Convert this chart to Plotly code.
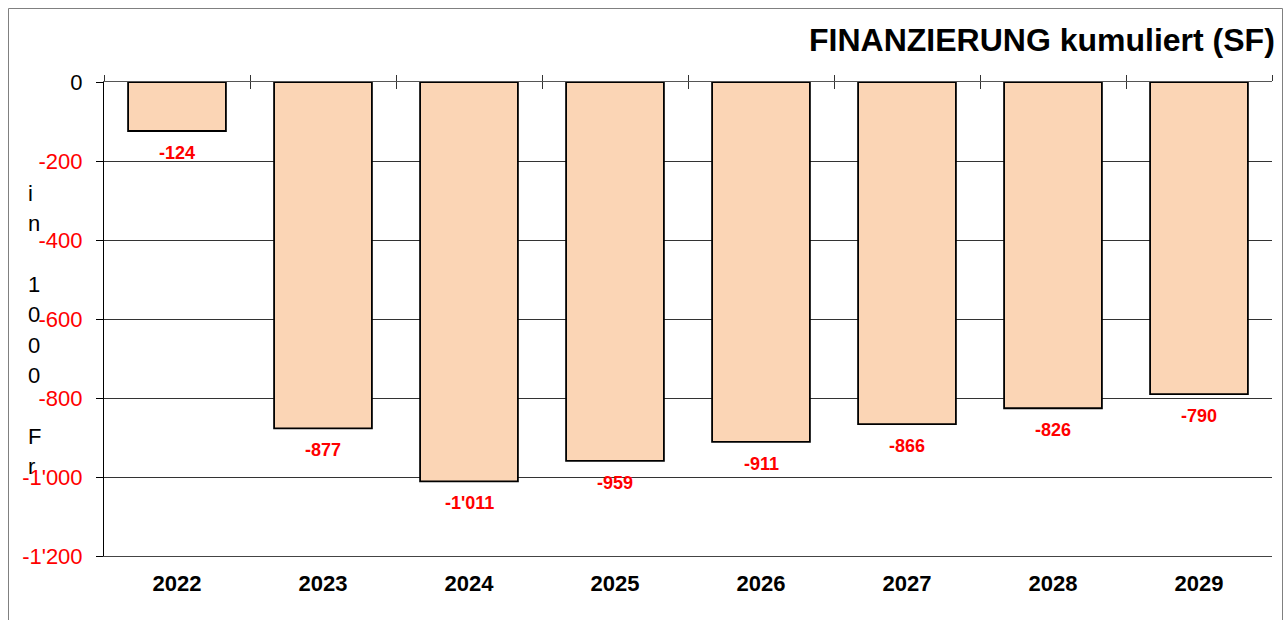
import plotly.graph_objects as go

# ---- data ----
years = ["2022", "2023", "2024", "2025", "2026", "2027", "2028", "2029"]
values = [-124, -877, -1011, -959, -911, -866, -826, -790]
ytick_vals = [0, -200, -400, -600, -800, -1000, -1200]
ytick_labels = ["0", "-200", "-400", "-600", "-800", "-1'000", "-1'200"]
title_text = "FINANZIERUNG kumuliert (SF)"
yaxis_title = "in 1000 Fr"

FONT = "Liberation Sans, Arial, Helvetica, sans-serif"
W, H = 1287, 620
ML, MR, MT, MB = 104, 15, 82, 64
PW, PH = W - ML - MR, H - MT - MB


def px_x(px):
    return (px - ML) / PW


def px_y(py):
    return (H - MB - py) / PH


def fmt(v):
    s = f"{abs(v):,}".replace(",", "'")
    return ("-" if v < 0 else "") + s


n = len(years)
xs = list(range(n))

fig = go.Figure()
fig.add_trace(go.Bar(
    x=xs, y=values, width=0.67,
    marker=dict(color="#FBD5B5", line=dict(color="black", width=1.8)),
    hoverinfo="skip", showlegend=False,
))
# invisible traces to attach boundary tick axes
fig.add_trace(go.Scatter(x=[], y=[], xaxis="x2", showlegend=False, hoverinfo="skip"))
fig.add_trace(go.Scatter(x=[], y=[], xaxis="x3", showlegend=False, hoverinfo="skip"))

# value labels under bars
for i, v in enumerate(values):
    fig.add_annotation(
        x=i, y=v, xref="x", yref="y", text=fmt(v), showarrow=False,
        yanchor="middle", xanchor="center", yshift=-22,
        font=dict(family=FONT, size=18, color="#FF0000", weight="bold"),
    )

# title
fig.add_annotation(
    x=px_x(1277), y=px_y(40), xref="paper", yref="paper", text=title_text,
    showarrow=False, xanchor="right", yanchor="middle",
    font=dict(family=FONT, size=32, color="black", weight="bold"),
)

# stacked y-axis title characters
spacing = 30.4
for k, ch in enumerate(yaxis_title):
    if ch == " ":
        continue
    fig.add_annotation(
        x=px_x(26), y=px_y(193 + k * spacing), xref="paper", yref="paper",
        text=ch, showarrow=False, xanchor="left", yanchor="middle",
        font=dict(family=FONT, size=22, color="black"),
    )

# outer border
fig.add_shape(
    type="rect", xref="paper", yref="paper",
    x0=px_x(8.5), x1=px_x(1282.5), y0=px_y(640), y1=px_y(8.5),
    line=dict(color="#808080", width=1), fillcolor="rgba(0,0,0,0)", layer="below",
)

ytext = [f'<span style="color:black">{t}</span>' if v == 0 else t
         for v, t in zip(ytick_vals, ytick_labels)]
bounds = [i - 0.5 for i in range(n + 1)]

fig.update_layout(
    width=W, height=H,
    margin=dict(l=ML, r=MR, t=MT, b=MB, pad=0),
    paper_bgcolor="white", plot_bgcolor="white",
    bargap=0.33,
    xaxis=dict(
        range=[-0.5, n - 0.5], tickmode="array", tickvals=xs, ticktext=years,
        showgrid=False, zeroline=False, showline=True, linecolor="#444",
        linewidth=1, ticks="",
        tickfont=dict(family=FONT, size=22, color="black", weight="bold"),
        ticklabelstandoff=8,
    ),
    xaxis2=dict(
        overlaying="x", anchor="y", side="top", range=[-0.5, n - 0.5],
        tickmode="array", tickvals=bounds, showticklabels=False,
        ticks="outside", ticklen=6, tickcolor="#333", tickwidth=1,
        showline=True, linecolor="#555", linewidth=1,
        showgrid=False, zeroline=False,
    ),
    xaxis3=dict(
        overlaying="x", anchor="y", side="top", range=[-0.5, n - 0.5],
        tickmode="array", tickvals=bounds, showticklabels=False,
        ticks="inside", ticklen=7, tickcolor="#333", tickwidth=1,
        showline=False, showgrid=False, zeroline=False,
    ),
    yaxis=dict(
        range=[-1200, 0], tickmode="array", tickvals=ytick_vals, ticktext=ytext,
        showgrid=True, gridcolor="#333", gridwidth=1,
        showline=True, linecolor="black", linewidth=1,
        ticks="outside", ticklen=7, tickcolor="black",
        zeroline=False,
        tickfont=dict(family=FONT, size=22, color="#FF0000"),
        ticklabelstandoff=9,
    ),
)

fig.write_html(
    "out.html",
    config={"displayModeBar": False},
    post_script="document.body.style.margin='0';document.body.style.overflow='hidden';",
)
